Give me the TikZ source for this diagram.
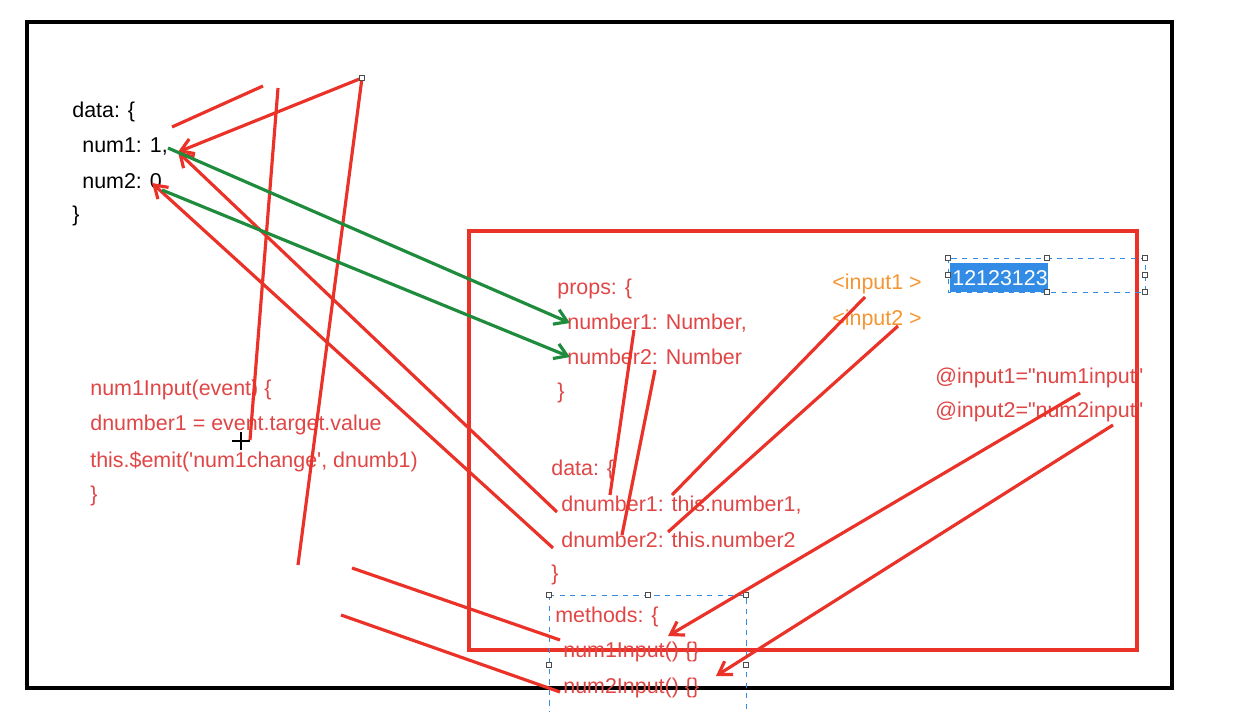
\documentclass[tikz,border=0pt]{standalone}
\usepackage{fontspec}
\setmainfont{Liberation Sans}[Ligatures=TeXOff]
\usetikzlibrary{arrows.meta}
\definecolor{rd}{RGB}{235,50,40}
\definecolor{rt}{RGB}{225,70,70}
\definecolor{gr}{RGB}{30,140,60}
\definecolor{og}{RGB}{245,150,50}
\definecolor{bl}{RGB}{50,140,230}
\begin{document}
\begin{tikzpicture}[x=0.02cm,y=-0.02cm,
  t/.style={anchor=west,inner sep=0,font=\fontsize{12.2}{14}\selectfont},
  rtxt/.style={t,text=rt},
  rl/.style={draw=rd,line width=1.8pt},
  ra/.style={rl,-{Straight Barb[length=7pt,width=9pt]}},
  ga/.style={draw=gr,line width=1.8pt,-{Straight Barb[length=7pt,width=9pt]}},
  dsh/.style={draw=bl,dashed,line width=0.5pt},
  hd/.style={draw=gray!60!black,fill=white,line width=0.4pt,minimum size=3pt,inner sep=0,rectangle}]
\useasboundingbox (0,0) rectangle (1254,712);
\fill[white] (0,0) rectangle (1254,712);
\draw[line width=2pt] (27,22) rectangle (1172,688);
\draw[rd,line width=1.8pt] (469,231) rectangle (1137,650);
% black text
\node[t] (d0) at (72,112) {data: \{};
\node[t] (n1) at (82,147) {num1: 1,};
\node[t] (n2) at (82,181) {num2: 0};
\node[t] (d1) at (72,216) {\}};
% left red
\node[rtxt] at (90,390) {num1Input(event) \{};
\node[rtxt] at (90,425) {dnumber1 = event.target.value};
\node[rtxt] at (90,462) {this.\$emit('num1change', dnumb1)};
\node[rtxt] at (90,496) {\}};
% right red
\node[rtxt] at (557,289) {props: \{};
\node[rtxt] (p1) at (567,323) {number1: Number,};
\node[rtxt] (p2) at (567,357) {number2: Number};
\node[rtxt] at (557,393) {\}};
\node[rtxt] at (551,470) {data: \{};
\node[rtxt] (dn1) at (561,505) {dnumber1: this.number1,};
\node[rtxt] (dn2) at (561,540) {dnumber2: this.number2};
\node[rtxt] at (551,575) {\}};
\node[rtxt] at (555,617) {methods: \{};
\node[rtxt] (m1) at (563,652) {num1Input() \{\}};
\node[rtxt] (m2) at (563,688) {num2Input() \{\}};
\node[t,text=og] at (832,284) {<input1 >};
\node[t,text=og] at (832,320) {<input2 >};
\node[rtxt] at (935,378) {@input1="num1input"};
\node[rtxt] at (935,412) {@input2="num2input"};
% selection box
\fill[bl] (950,263) rectangle (1048,292);
\node[t,text=white] at (952,278) {12123123};
\draw[dsh] (948,258) rectangle (1145,292);
\foreach \p in {(948,258),(1047,258),(1145,258),(948,275),(1145,275),(1145,292),(1047,292)} \node[hd] at \p {};
\draw[dsh] (549,595) -- (746,595) -- (746,712) (549,595) -- (549,712);
\foreach \p in {(549,595),(648,595),(746,595),(549,665),(746,665)} \node[hd] at \p {};
% coordinates
\coordinate (a1) at (172,127); \coordinate (a2) at (263,86);
\coordinate (b1) at (278,88); \coordinate (b2) at (250,440);
\coordinate (c1) at (362,78); \coordinate (c2) at (298,565);
\coordinate (n1e) at (178,152); \coordinate (n2e) at (152,183);
\coordinate (g1) at (168,148); \coordinate (g2) at (162,190);
% red strokes
\draw[rl] (a1) -- (a2);
\draw[rl] (b1) -- (b2);
\draw[rl] (c1) -- (c2);
\draw[ra] (c1) -- (n1e);
\node[hd] at (c1) {};
\draw[ra] (557,512) -- (n1e);
\draw[ra] (553,548) -- (n2e);
\draw[ga] (g1) -- (570,323);
\draw[ga] (g2) -- (570,357);
\draw[rl] (610,495) -- (634,330);
\draw[rl] (622,535) -- (655,370);
\draw[rl] (672,495) -- (865,297);
\draw[rl] (668,532) -- (898,326);
\draw[ra] (1080,393) -- (668,636);
\draw[ra] (1113,425) -- (716,676);
\draw[rl] (352,568) -- (560,640);
\draw[rl] (341,615) -- (560,692);
\draw[line width=0.6pt] (232,441) -- (250,441) (241,432) -- (241,450);
\end{tikzpicture}
\end{document}
